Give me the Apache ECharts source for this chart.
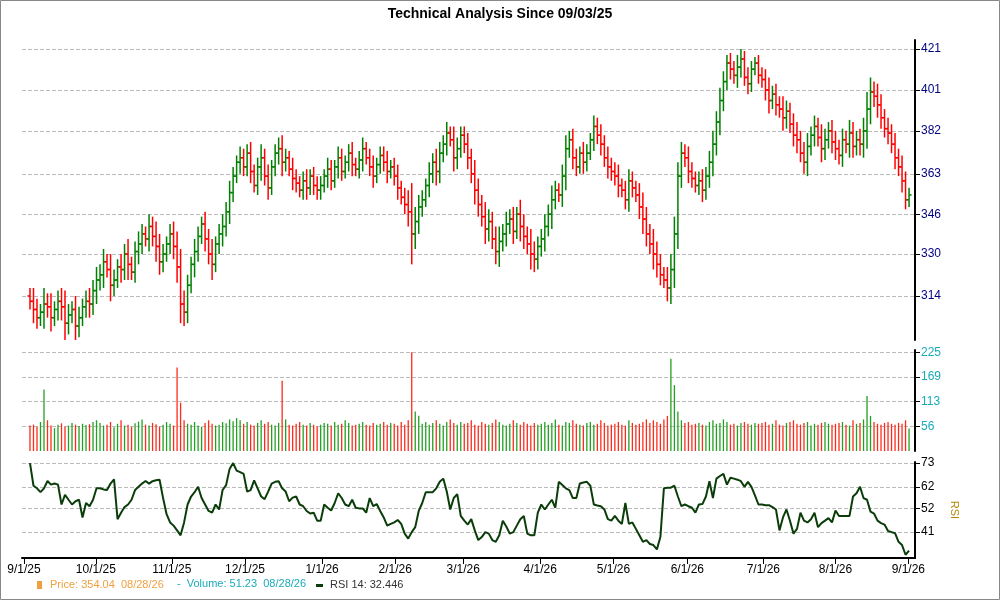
<!DOCTYPE html>
<html><head><meta charset="utf-8">
<script src="https://cdn.jsdelivr.net/npm/echarts@6/dist/echarts.min.js"></script>
<style>html,body{margin:0;padding:0;background:#fff}#c{width:1000px;height:600px}</style>
</head><body><div id="c"></div>
<script>
// Daily closes (approx.), 09/03/25 .. 08/28/26
const closes = [
312,309,306,308,311,310,306,309,312,310,304,307,309,303,306,310,312,311,316,320,
322,327,324,318,320,325,324,330,326,323,331,334,338,336,341,337,333,327,330,334,338,
333,325,311,308,318,326,331,337,342,336,330,326,334,338,341,347,355,362,368,370,366,
372,364,358,366,370,362,357,366,372,374,368,370,365,361,359,356,360,357,362,358,356,
358,362,365,360,366,370,364,368,372,367,365,369,374,370,366,362,367,371,368,364,366,
362,357,353,350,347,338,343,349,352,358,363,368,364,372,376,381,378,370,374,380,376,
370,363,356,350,345,340,343,336,331,335,338,342,344,339,346,341,337,334,330,328,333,
336,341,346,352,356,354,362,374,378,370,366,372,368,372,378,384,380,376,370,366,364,
362,358,356,352,360,357,354,349,344,338,334,330,326,322,320,317,324,338,362,372,370,
364,361,358,360,356,362,368,376,386,396,405,414,411,408,412,416,407,404,411,414,408,
406,401,396,399,394,392,388,391,385,380,378,372,368,375,380,384,379,374,378,382,377,
374,371,378,376,381,375,378,376,382,392,400,398,394,388,383,381,376,370,366,360,352,354];
// Wick extension beyond open/close per day
const wicks = [
3,5,4,3,6,4,5,3,4,5,6,4,3,5,4,3,4,5,4,5,
4,5,3,6,4,3,5,4,6,3,4,5,4,3,5,4,6,5,4,3,4,
5,6,7,5,4,3,5,4,3,5,4,6,3,4,5,4,5,4,3,5,4,
4,5,3,4,6,4,5,3,4,5,6,4,3,5,4,3,4,5,3,4,4,
4,3,5,4,3,5,4,3,4,5,3,4,5,3,4,5,3,4,4,5,3,
4,5,3,4,6,12,6,5,4,3,5,4,6,5,4,5,3,6,5,4,4,
5,4,6,5,4,6,5,4,5,6,4,5,4,5,3,6,5,4,6,5,4,
4,5,4,6,4,3,5,6,4,5,4,3,5,4,3,5,4,5,4,5,4,
4,5,3,4,5,4,3,5,6,5,4,6,5,4,3,5,6,7,6,5,4,
5,4,3,4,5,4,5,6,5,6,5,4,5,4,6,5,4,5,4,3,4,
4,5,6,4,5,4,6,5,4,5,6,4,5,6,4,5,4,6,5,4,5,
5,4,5,4,6,5,4,5,6,8,7,5,6,5,4,5,4,5,4,5,4,3];
// Volume (approx.)
const volumes = [
58,60,55,66,140,70,58,52,60,63,55,58,64,60,57,62,59,61,66,70,
64,58,60,66,54,62,70,58,60,55,63,67,72,60,58,64,61,56,60,66,62,
58,190,110,70,62,60,66,58,55,64,70,62,58,60,66,63,72,68,75,70,62,
66,60,58,64,70,62,66,60,58,64,160,72,60,58,62,66,60,58,64,60,56,
60,64,62,58,66,60,62,70,64,58,60,62,66,60,58,64,60,62,66,60,64,
62,58,66,60,70,225,90,80,62,66,60,64,70,62,58,66,72,64,60,66,62,
64,70,60,58,66,62,60,64,72,66,60,58,62,70,64,60,66,62,58,64,60,
62,66,60,64,72,60,58,66,64,70,62,60,58,64,66,60,62,70,64,58,60,
62,66,60,58,70,64,60,62,66,72,64,70,66,62,72,80,210,150,90,70,64,
66,60,62,64,60,58,66,70,62,64,72,66,60,62,58,64,66,62,60,64,62,
64,66,60,62,70,60,58,64,66,70,62,60,64,66,58,62,60,64,66,62,60,
62,64,66,60,58,70,62,64,72,125,80,66,62,60,64,66,62,60,64,62,70,51];
// RSI 14
const rsiValues = [
73,62.5,61.3,59.5,61.3,64.7,63,63.5,63,53.8,58.3,56,53.8,55.3,56,47.8,54.5,53,56,61.3,
61.3,60.8,60.5,63.5,65.5,47,50,52.6,53.8,56,60.5,62,63.5,64.7,63.5,64.6,65,65.3,56.8,49.3,
45.5,44,41.8,39.5,45.5,53.8,57.5,59.5,62,56.8,53.8,50.8,50,53.8,51.5,60.5,62.8,70.3,73,69.5,
68.8,68,59.8,60.5,65,61.3,57.5,56.3,59.8,63.5,64.3,64.6,61.3,59.8,55.3,57,57.5,53.8,53,50.8,
49.6,50,46.3,46.3,53.8,52.3,51,54.5,59,56.8,53.8,53,56,52.3,52,52,50,56.8,53,54,
50.8,47.8,44,44.8,45.5,46.6,44.8,40.3,38,41,43.3,50.8,54.5,59.5,59.5,59.5,61.3,64.3,65.8,59.8,
51.5,56.8,58.6,48.5,46.3,44.5,47,41.8,37.3,38.7,41,40.3,37.3,36.5,39.5,46.3,43.6,40.3,41,44,
47,48.5,40.3,39.5,39.5,50,53.8,51.5,53.8,56,52.3,64.3,62.8,61.3,60.5,56.8,56.8,63.5,64,64.3,
62.5,53.8,53.3,53,51.5,47,46.3,48.5,46.3,44.8,54.5,44.8,45.5,42.5,39.5,36.5,37.3,35.5,35,33,
38.7,61.3,61.6,61.6,62.5,57.5,53,53.8,53,52.3,50,53.8,54,57.5,64.6,56.8,65.8,67,68,63,
66.2,65.8,65.3,64.6,62,64.3,62,58,53.8,53.8,53.5,53.5,52.6,51.5,41.8,47.8,51.5,46.3,40.3,42.5,
50,46.3,45.5,47,50,43.3,45.2,46.3,47.5,45.5,51,48.5,48.5,48.5,48.5,57.5,59,62,56.8,56,
50.5,49.6,46.3,45.2,44.5,41.5,41,40.5,36.5,35,30.5,32.4];
const monthTicks = [-1.7,18.8,40.5,61.4,83.4,104.3,123.7,145.7,166.6,187.7,209.4,230,250.8];
const monthLabels = ['9/1/25','10/1/25','11/1/25','12/1/25','1/1/26','2/1/26','3/1/26','4/1/26','5/1/26','6/1/26','7/1/26','8/1/26','9/1/26'];
const priceTicks = [314,330,346,363,382,401,421];
const volTicks = [56,113,169,225];
const rsiTicks = [41,52,62,73];

const N = closes.length;
const ohlc = [], vol = [], rsi = [];
for (let i = 0; i < N; i++) {
  const o = i === 0 ? closes[0] + 2 : closes[i-1];
  const c = closes[i];
  const h = Math.max(o,c) + wicks[i], l = Math.min(o,c) - wicks[i];
  const up = c >= o ? 1 : 0;
  ohlc.push([i, Math.log(o), Math.log(c), Math.log(l), Math.log(h), up]);
  vol.push({value:[i, volumes[i]], itemStyle:{color: up ? '#22a022' : '#ff2a1a'}});
  if (i < rsiValues.length) rsi.push([i, rsiValues[i]]);
}
const xmin = -2.28, xmax = N - 1 + 1.7;
const labelMap = {}; monthTicks.forEach((v,k) => labelMap[v] = monthLabels[k]);
const font = 'Arial, "Liberation Sans", sans-serif';
function xAx(gi, labels) {
  return {type:'value', gridIndex:gi, min:xmin, max:xmax,
    axisLine:{show:labels, onZero:false, lineStyle:{color:'#000', width:2}},
    axisTick:{show:labels, customValues:monthTicks, length:6, lineStyle:{color:'#000'}},
    axisLabel:{show:labels, customValues:monthTicks, formatter:v => labelMap[v] || '', color:'#000', fontFamily:font, fontSize:12, margin:6},
    splitLine:{show:false}};
}
function yAx(gi, min, max, vals, fmt, col) {
  return {type:'value', gridIndex:gi, position:'right', min:min, max:max,
    axisLine:{show:true, onZero:false, lineStyle:{color:'#000', width:2}},
    axisTick:{show:true, customValues:vals, length:5, lineStyle:{color:'#000'}},
    axisLabel:{customValues:vals, formatter:fmt, color:col, fontFamily:font, fontSize:12, margin:6},
    splitLine:{show:true, lineStyle:{color:'#bbb', type:'dashed'}}};
}
const chart = echarts.init(document.getElementById('c'));
chart.setOption({
  animation:false,
  title:{text:'Technical Analysis Since 09/03/25', left:'center', top:2, textStyle:{fontFamily:font, fontSize:14, fontWeight:'bold', color:'#000'}},
  grid:[
    {left:22, right:85, top:40, height:300},
    {left:22, right:85, top:350, height:101},
    {left:22, right:85, top:462, height:96}],
  xAxis:[xAx(0,false), xAx(1,false), xAx(2,true)],
  yAxis:[
    yAx(0, Math.log(298), Math.log(425.5), priceTicks.map(Math.log), v => String(Math.round(Math.exp(v))), '#000080'),
    yAx(1, 0, 230, volTicks, v => String(v), '#1aaab8'),
    Object.assign(yAx(2, 29, 73.5, rsiTicks, v => String(v), '#000'), {name:'RSI', nameLocation:'middle', nameRotate:-90, nameGap:34, nameTextStyle:{color:'#b8860b', fontFamily:font, fontSize:11}})
  ],
  graphic:[
    {type:'rect', shape:{x:0.5,y:0.5,width:999,height:599}, style:{fill:'none', stroke:'#888', lineWidth:1}},
    {type:'rect', shape:{x:37,y:581,width:5,height:8}, style:{fill:'#f0a040'}},
    {type:'text', left:50, top:579, style:{text:'Price: 354.04  08/28/26', fill:'#f0a040', font:'11px '+font}},
    {type:'text', left:177, top:578, style:{text:'-  Volume: 51.23  08/28/26', fill:'#1aaab8', font:'11px '+font}},
    {type:'rect', shape:{x:316,y:584,width:7,height:3}, style:{fill:'#0a3d0a'}},
    {type:'text', left:330, top:579, style:{text:'RSI 14: 32.446', fill:'#333', font:'11px '+font}}
  ],
  series:[
    {type:'custom', xAxisIndex:0, yAxisIndex:0, data:ohlc, encode:{x:0, y:[1,2,3,4]},
     renderItem:function(params, api){
       const x = api.value(0);
       const po = api.coord([x, api.value(1)]), pc = api.coord([x, api.value(2)]);
       const pl = api.coord([x, api.value(3)]), ph = api.coord([x, api.value(4)]);
       const col = api.value(5) ? '#008000' : '#ff0000';
       const st = {stroke:col, lineWidth:1.5};
       return {type:'group', children:[
         {type:'line', shape:{x1:po[0],y1:ph[1],x2:po[0],y2:pl[1]}, style:st},
         {type:'line', shape:{x1:po[0]-2.5,y1:po[1],x2:po[0],y2:po[1]}, style:st},
         {type:'line', shape:{x1:po[0],y1:pc[1],x2:po[0]+2.5,y2:pc[1]}, style:st}]};
     }},
    {type:'bar', xAxisIndex:1, yAxisIndex:1, data:vol, barWidth:1.3},
    {type:'line', xAxisIndex:2, yAxisIndex:2, data:rsi, showSymbol:false, lineStyle:{color:'#0a3d0a', width:2}}
  ]
});
</script></body></html>
